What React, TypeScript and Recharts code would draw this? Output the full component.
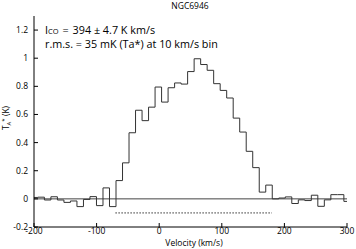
import { Line, LineChart, ReferenceLine, XAxis, YAxis } from 'recharts';

// channel left edges (km/s) and antenna temperature (K)
const VELOCITY = [
  -200, -193.8, -183.4, -173, -162.6, -152.2, -141.8, -131.4, -121, -110.6,
  -100.2, -89.8, -79.4, -69, -58.6, -48.2, -37.8, -27.4, -17, -6.6,
  3.8, 14.2, 24.6, 35, 45.4, 55.8, 66.2, 76.6, 87, 97.4,
  107.8, 118.2, 128.6, 139, 149.4, 159.8, 170.2, 180.6, 191, 201.4,
  211.8, 222.2, 232.6, 243, 253.4, 263.8, 274.2, 284.6, 295, 300,
];

const TA = [
  0.01, 0.012, -0.008, 0.015, -0.008, -0.025, -0.015, -0.055, -0.004, 0.016,
  -0.048, 0.078, -0.055, 0.13, 0.256, 0.47, 0.63, 0.556, 0.652, 0.795,
  0.688, 0.79, 0.824, 0.816, 0.905, 0.996, 0.955, 0.914, 0.819, 0.771,
  0.717, 0.574, 0.475, 0.338, 0.222, 0.048, 0.098, 0.0, 0.006, 0.014,
  -0.033, -0.007, -0.012, 0.026, -0.053, -0.007, 0.03, 0.03, -0.018, -0.018,
];

const X_TICKS = [-200, -100, 0, 100, 200, 300];
const Y_TICKS = [-0.2, 0, 0.2, 0.4, 0.6, 0.8, 1, 1.2];
const X_DOMAIN: [number, number] = [-200, 300];
const Y_DOMAIN: [number, number] = [-0.2, 1.3];
const WINDOW_FROM = -70;
const WINDOW_TO = 180;
const WINDOW_LEVEL = -0.1;

const SPECTRUM = VELOCITY.map((v, i) => ({ v, t: TA[i] }));

const FONT = "'Open Sans', sans-serif";
const tickStyle = { fill: '#000', fontSize: 8.5, fontFamily: FONT };
const blank = () => '';

export default function App() {
  return (
    <div style={{ position: 'absolute', left: 0, top: 0, width: 356, height: 249, background: '#fff' }}>
      <LineChart width={356} height={249} data={SPECTRUM} margin={{ top: 16, right: 9, bottom: 3, left: 4 }}>
        <XAxis
          xAxisId="b"
          type="number"
          dataKey="v"
          domain={X_DOMAIN}
          ticks={X_TICKS}
          interval={0}
          allowDataOverflow
          height={19}
          tickSize={-4}
          tickMargin={5}
          stroke="#000"
          tick={tickStyle}
        />
        <XAxis
          xAxisId="t"
          orientation="top"
          type="number"
          dataKey="v"
          domain={X_DOMAIN}
          ticks={X_TICKS}
          interval={0}
          allowDataOverflow
          height={0}
          tickSize={-4}
          tickFormatter={blank}
          stroke="#000"
        />
        <YAxis
          yAxisId="l"
          type="number"
          domain={Y_DOMAIN}
          ticks={Y_TICKS}
          interval={0}
          allowDataOverflow
          width={30}
          tickSize={-4}
          tickMargin={10}
          stroke="#000"
          tick={tickStyle}
          tickFormatter={(v: number) => String(Math.round(v * 10) / 10)}
        />
        <YAxis
          yAxisId="r"
          orientation="right"
          type="number"
          domain={Y_DOMAIN}
          ticks={Y_TICKS}
          interval={0}
          allowDataOverflow
          width={0}
          tickSize={-4}
          tickFormatter={blank}
          stroke="#000"
        />
        <ReferenceLine xAxisId="b" yAxisId="l" y={0} stroke="#444" strokeWidth={1} />
        <ReferenceLine
          xAxisId="b"
          yAxisId="l"
          segment={[{ x: WINDOW_FROM, y: WINDOW_LEVEL }, { x: WINDOW_TO, y: WINDOW_LEVEL }]}
          stroke="#333"
          strokeDasharray="1.5 1.5"
        />
        <Line
          xAxisId="b"
          yAxisId="l"
          type="stepAfter"
          dataKey="t"
          stroke="#333"
          strokeWidth={1}
          dot={false}
          isAnimationActive={false}
        />
      </LineChart>
      <svg width={356} height={249} style={{ position: 'absolute', left: 0, top: 0, pointerEvents: 'none' }}>
        <g fontFamily={FONT} fill="#000">
          <text x={190} y={9} fontSize={8.5} textAnchor="middle">NGC6946</text>
          <text x={45} y={34} fontSize={10.8}>
            I<tspan fontSize={7.5}>CO</tspan>
            <tspan dx={1}> =</tspan>
            <tspan dx={4}>394 ± 4.7 K km/s</tspan>
          </text>
          <text x={45} y={48} fontSize={10.8}>r.m.s. = 35 mK (Ta*) at 10 km/s bin</text>
          <text x={194} y={246} fontSize={8.5} textAnchor="middle">Velocity (km/s)</text>
          <text transform="translate(9,118) rotate(-90)" fontSize={8.5} textAnchor="middle">
            T<tspan fontSize={6} dy={2}>A</tspan><tspan fontSize={6} dy={-5}>*</tspan><tspan dy={3}> (K)</tspan>
          </text>
        </g>
      </svg>
    </div>
  );
}
